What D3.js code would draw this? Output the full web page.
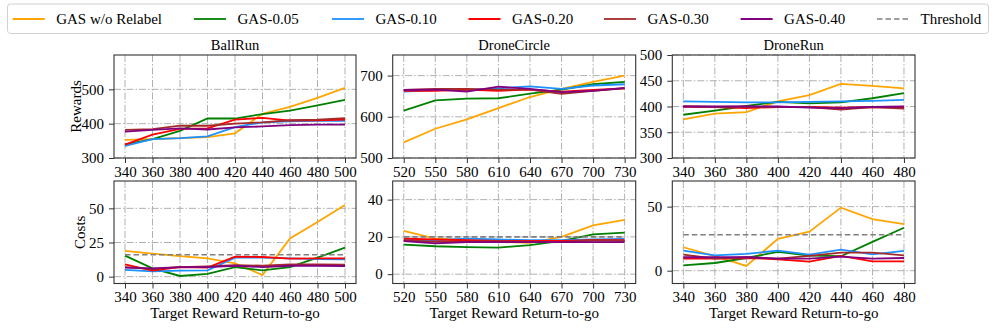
<!DOCTYPE html>
<html>
<head>
<meta charset="utf-8">
<script src="https://cdn.jsdelivr.net/npm/d3@7"></script>
<style>
  body { margin: 0; background: #fff; }
  text { font-family: "Liberation Serif", "Times New Roman", serif; fill: #000; }
</style>
</head>
<body>
<svg id="chart" width="997" height="330"></svg>
<script>
// ---- data ----
const seriesNames = ["GAS w/o Relabel", "GAS-0.05", "GAS-0.10", "GAS-0.20", "GAS-0.30", "GAS-0.40"];
const seriesColors = ["#ffa500", "#008000", "#1e90ff", "#ff0000", "#a52a2a", "#800080"];

const ballRunX = [340, 360, 380, 400, 420, 440, 460, 480, 500];
const droneCircleX = [520, 550, 580, 610, 640, 670, 700, 730];
const droneRunX = [340, 360, 380, 400, 420, 440, 460, 480];

const ballRunRewards = [
  [353, 355, 358, 361, 372, 429, 449, 475, 504],
  [340, 355, 379, 415, 415, 428, 438, 453, 469],
  [335, 355, 358, 363, 390, 404, 407, 408, 408],
  [339, 368, 385, 386, 412, 417, 409, 410, 412],
  [382, 384, 394, 394, 400, 404, 410, 412, 416],
  [377, 382, 386, 383, 389, 392, 396, 397, 397]
];
const droneCircleRewards = [
  [538, 571, 594, 621, 648, 668, 685, 700],
  [615, 640, 644, 645, 656, 666, 679, 685],
  [661, 665, 665, 669, 674, 668, 676, 679],
  [663, 663, 666, 663, 666, 661, 665, 669],
  [665, 668, 668, 666, 666, 656, 663, 669],
  [665, 666, 661, 673, 668, 660, 663, 670]
];
const droneRunRewards = [
  [375, 386, 389, 410, 422, 444, 440, 435],
  [384, 392, 401, 409, 406, 408, 416, 426],
  [410, 409, 408, 408, 409, 410, 411, 413],
  [400, 399, 397, 399, 399, 398, 399, 398],
  [400, 399, 400, 399, 399, 394, 399, 396],
  [400, 400, 400, 400, 398, 397, 399, 400]
];

const ballRunCosts = [
  [18.8, 16.8, 15.1, 13.4, 9.8, 1.2, 28, 40, 52.4],
  [15.4, 6.1, 0.5, 2, 7, 4.6, 7, 13.9, 21.2],
  [4.9, 3.9, 4.4, 4.6, 13.9, 13.9, 13.4, 12.9, 12.7],
  [9, 4.4, 7, 6.6, 14.6, 14.4, 13.2, 13.4, 13.4],
  [7, 5.6, 7, 7.6, 8.5, 8, 9, 9, 8.8],
  [6.6, 6.1, 7, 7, 8, 7, 8, 8, 7.8]
];
const droneCircleCosts = [
  [23.2, 19.1, 18.2, 17.3, 16.8, 20, 26.2, 29.2],
  [15.9, 15, 14.5, 14.3, 15.6, 17.9, 21.4, 22.3],
  [18.6, 18.2, 19.1, 18.6, 18.2, 18.2, 18.6, 18.9],
  [19.1, 18.6, 18.2, 17.9, 17.9, 17.9, 18.2, 18.2],
  [18.2, 17.3, 17.5, 17.7, 17.5, 17.2, 18.2, 17.9],
  [17.7, 16.5, 17.2, 17.2, 17.2, 17.2, 17.2, 17.2]
];
const droneRunCosts = [
  [18.3, 11.3, 3.7, 24.9, 30.4, 49.2, 40.3, 36.4],
  [4.2, 6, 9.9, 14.7, 11.8, 11.3, 22.5, 33.5],
  [15.7, 12, 13.1, 15.7, 12.6, 16.5, 12.8, 15.4],
  [9.4, 9.4, 9.9, 8.9, 7.1, 11.5, 7.3, 7.3],
  [12.6, 9.4, 10.5, 9.4, 11.5, 14.1, 14.1, 12],
  [10.5, 10.5, 10.5, 9.4, 9.4, 11, 9.4, 9.9]
];

const ballRunThreshold = 16;
const droneCircleThreshold = 20;
const droneRunThreshold = 28;

const rewardTicks = [[300, 400, 500], [500, 600, 700], [300, 350, 400, 450, 500]];
const costTicks = [[0, 25, 50], [0, 20, 40], [0, 50]];
const envNames = ["BallRun", "DroneCircle", "DroneRun"];

// ---- layout ----
const svg = d3.select("#chart");
const cols = [[114, 356], [392.7, 635.7], [672.3, 915]];
const rows = [[55, 158], [181, 283.5]];
const xDomains = [[332, 508], [509.5, 740.5], [333, 487]];
const rewardDomains = [[300, 600], [500, 750], [300, 500]];
const costDomains = [[-5, 70], [-5, 50], [-10, 70]];
const xValues = [ballRunX, droneCircleX, droneRunX];
const rewards = [ballRunRewards, droneCircleRewards, droneRunRewards];
const costs = [ballRunCosts, droneCircleCosts, droneRunCosts];
const thresholds = [ballRunThreshold, droneCircleThreshold, droneRunThreshold];

function drawPanel(c, r) {
  let xs = xValues[c];
  let xScale = d3.scaleLinear().domain(xDomains[c]).range(cols[c]);
  let yScale = d3.scaleLinear()
    .domain(r === 0 ? rewardDomains[c] : costDomains[c])
    .range([rows[r][1], rows[r][0]]);
  let yt = r === 0 ? rewardTicks[c] : costTicks[c];
  let data = r === 0 ? rewards[c] : costs[c];
  let g = svg.append("g");

  // grid
  g.selectAll(".vg").data(xs).enter().append("line")
    .attr("x1", d => xScale(d)).attr("x2", d => xScale(d))
    .attr("y1", rows[r][0]).attr("y2", rows[r][1])
    .attr("stroke", "#b0b0b0").attr("stroke-width", 1)
    .attr("stroke-dasharray", "7,2,1.5,2");
  g.selectAll(".hg").data(yt).enter().append("line")
    .attr("x1", cols[c][0]).attr("x2", cols[c][1])
    .attr("y1", d => yScale(d)).attr("y2", d => yScale(d))
    .attr("stroke", "#b0b0b0").attr("stroke-width", 1)
    .attr("stroke-dasharray", "7,2,1.5,2");

  let line = d3.line()
    .x((d, i) => xScale(xs[i]))
    .y(d => yScale(d));

  data.forEach(function(s, k) {
    g.append("path")
      .datum(s)
      .attr("fill", "none")
      .attr("stroke", seriesColors[k])
      .attr("stroke-width", 1.8)
      .attr("d", line);
  });

  if (r === 1) {
    g.append("line")
      .attr("x1", xScale(xs[0])).attr("x2", xScale(xs[xs.length - 1]))
      .attr("y1", yScale(thresholds[c])).attr("y2", yScale(thresholds[c]))
      .attr("stroke", "#808080").attr("stroke-width", 1.6)
      .attr("stroke-dasharray", "5.5,3");
  }

  // axes
  let xAxis = g.append("g")
    .attr("transform", "translate(0," + rows[r][1] + ")")
    .call(d3.axisBottom(xScale).tickValues(xs).tickSize(5).tickPadding(3).tickSizeOuter(0));
  let yAxis = g.append("g")
    .attr("transform", "translate(" + cols[c][0] + ",0)")
    .call(d3.axisLeft(yScale).tickValues(yt).tickSize(5).tickPadding(5).tickSizeOuter(0));
  [xAxis, yAxis].forEach(function(a) {
    a.select(".domain").remove();
    a.selectAll("line").attr("stroke", "#333");
    a.selectAll("text").style("font-size", "15px")
      .style("font-family", "'Liberation Serif', serif").attr("fill", "#000");
  });

  // frame
  g.append("rect")
    .attr("x", cols[c][0]).attr("y", rows[r][0])
    .attr("width", cols[c][1] - cols[c][0])
    .attr("height", rows[r][1] - rows[r][0])
    .attr("fill", "none").attr("stroke", "#333").attr("stroke-width", 1.1);

  if (r === 0) {
    g.append("text")
      .attr("x", (cols[c][0] + cols[c][1]) / 2).attr("y", 50)
      .attr("text-anchor", "middle").style("font-size", "14.5px")
      .text(envNames[c]);
  } else {
    g.append("text")
      .attr("x", (cols[c][0] + cols[c][1]) / 2).attr("y", 318)
      .attr("text-anchor", "middle").style("font-size", "15px")
      .text("Target Reward Return-to-go");
  }
  if (c === 0) {
    let cx = r === 0 ? 76 : 80;
    let cy = (rows[r][0] + rows[r][1]) / 2;
    g.append("text")
      .attr("transform", "translate(" + (cx + 5) + "," + cy + ") rotate(-90)")
      .attr("text-anchor", "middle").style("font-size", "15px")
      .text(r === 0 ? "Rewards" : "Costs");
  }
}

for (let r = 0; r < 2; r++) {
  for (let c = 0; c < 3; c++) drawPanel(c, r);
}

// ---- legend ----
const legendNames = seriesNames.concat(["Threshold"]);
const legendColors = seriesColors.concat(["#808080"]);
const legendX = [12.7, 194, 332, 468.5, 604, 740.6, 877];

let legend = svg.append("g");
legend.append("rect")
  .attr("x", 7.5).attr("y", 4).attr("width", 981).attr("height", 29.5)
  .attr("rx", 3).attr("fill", "#fff").attr("stroke", "#d0d0d0").attr("stroke-width", 1);

let items = legend.selectAll(".item").data(legendNames).enter().append("g")
  .attr("transform", (d, i) => "translate(" + legendX[i] + ",19)");
items.append("line")
  .attr("x1", 0).attr("x2", 32).attr("y1", 0).attr("y2", 0)
  .attr("stroke", (d, i) => legendColors[i])
  .attr("stroke-width", (d, i) => i === 6 ? 1.6 : 1.8)
  .attr("stroke-dasharray", (d, i) => i === 6 ? "5.5,3" : null);
items.append("text")
  .attr("x", 43.5).attr("y", 5)
  .style("font-size", "15px")
  .text(d => d);
</script>
</body>
</html>
